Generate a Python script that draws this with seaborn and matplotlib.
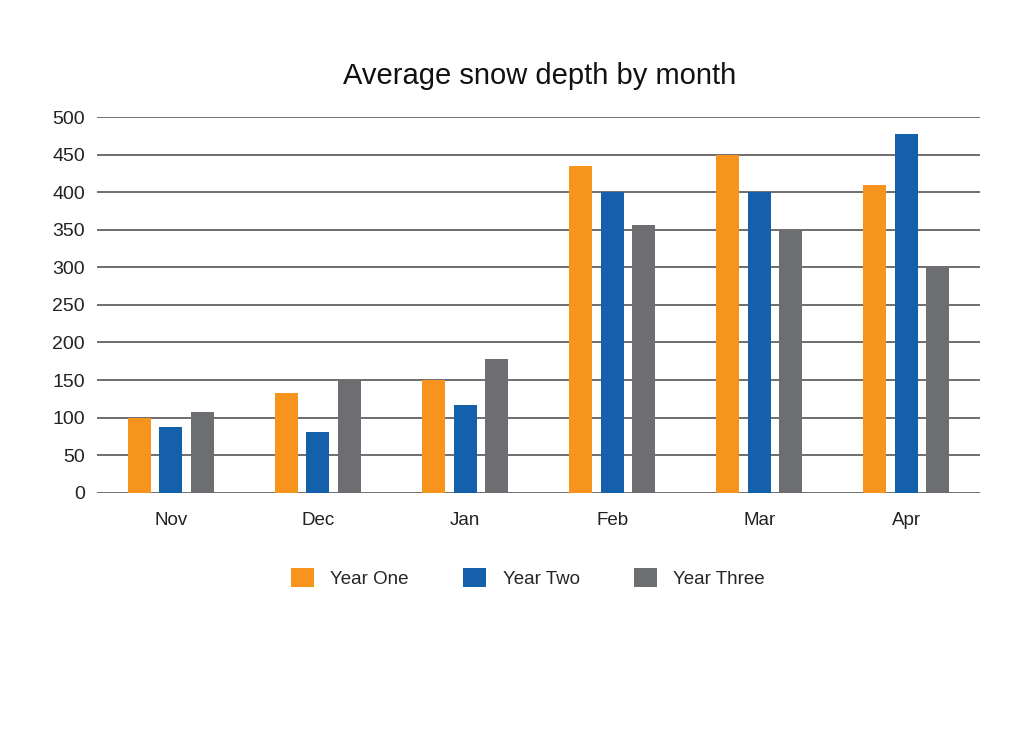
import pandas as pd
import numpy as np
import matplotlib
matplotlib.use("Agg")
import matplotlib.pyplot as plt
import seaborn as sns

months = ['Nov', 'Dec', 'Jan', 'Feb', 'Mar', 'Apr']
year_one = [100, 133, 150, 435, 450, 409]
year_two = [88, 81, 117, 400, 400, 477]
year_three = [107, 150, 178, 356, 350, 300]
series = ['Year One', 'Year Two', 'Year Three']
colors = ['#F7941D', '#1560AB', '#6D6E71']

df = pd.DataFrame({
    'month': months * 3,
    'depth': year_one + year_two + year_three,
    'year': [s for s in series for _ in months],
})

sns.set_theme(style="white")
plt.rcParams['font.family'] = ['Liberation Sans', 'DejaVu Sans']

fig = plt.figure(figsize=(10.24, 7.41), dpi=100)
ax = fig.add_axes([0.095, 0.335, 0.862, 0.507])

sns.barplot(data=df, x='month', y='depth', hue='year', order=months, hue_order=series,
            palette=colors, saturation=1, width=0.643, gap=0.27, linewidth=0,
            ax=ax, legend=True)

ax.set_ylim(0, 500)
ax.set_xlim(-0.5, 5.5)
ax.set_yticks(range(0, 501, 50))
ax.yaxis.grid(True, color='#555555', linewidth=1.2)
ax.set_axisbelow(True)
for s in ax.spines.values():
    s.set_visible(False)
ax.tick_params(axis='y', labelsize=14, pad=9, length=0)
ax.tick_params(axis='x', labelsize=13.5, pad=14, length=0)
ax.set_xlabel('')
ax.set_ylabel('')
for lbl in ax.get_xticklabels() + ax.get_yticklabels():
    lbl.set_color('#222222')

fig.text(0.527, 0.897, 'Average snow depth by month', ha='center', va='center',
         fontsize=21, color='#111111')

ax.legend(loc='upper center', bbox_to_anchor=(0.488, -0.155), ncol=3, frameon=False,
          fontsize=13.5, handlelength=1.2, handleheight=1.2, columnspacing=2.9,
          handletextpad=0.9)

fig.savefig('out.png', dpi=100, facecolor='white')
